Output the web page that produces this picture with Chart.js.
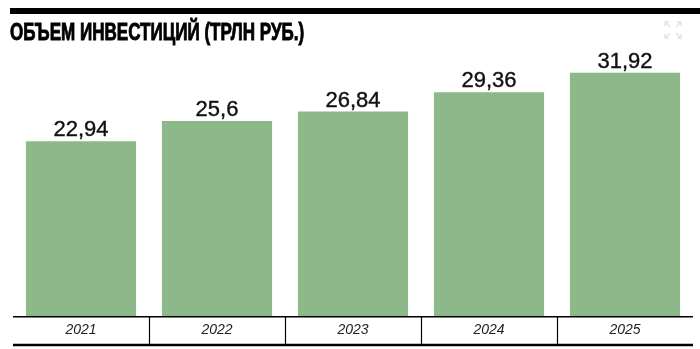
<!DOCTYPE html>
<html><head><meta charset="utf-8">
<script src="https://cdn.jsdelivr.net/npm/chart.js@4"></script>
<style>
html,body{margin:0;padding:0;background:#fff;}
#wrap{position:relative;width:700px;height:349px;overflow:hidden;}
#bar{position:absolute;left:10px;top:8px;width:690px;height:6px;background:#000;}
#title{position:absolute;left:10px;top:18px;font-family:"Liberation Sans",Arial,sans-serif;font-weight:bold;font-size:24px;color:#000;white-space:nowrap;transform:scaleX(0.71);transform-origin:0 0;-webkit-text-stroke:0.9px #000;}
#icon{position:absolute;left:664px;top:21px;width:18px;height:18px;}
canvas{position:absolute;left:0;top:0;}
</style></head>
<body><div id="wrap">
<canvas id="c" width="700" height="349"></canvas>
<div id="bar"></div>
<div id="title">ОБЪЕМ ИНВЕСТИЦИЙ (ТРЛН РУБ.)</div>
<svg id="icon" viewBox="0 0 18 18"><g stroke="#e4e4e4" stroke-width="1.5" fill="none"><path d="M1 5V1h4M13 1h4v4M17 13v4h-4M5 17H1v-4M1 1l5 5M17 1l-5 5M17 17l-5-5M1 17l5-5"/></g></svg>
</div>
<script>
const categories = ["2021","2022","2023","2024","2025"];
const values = [22.94, 25.6, 26.84, 29.36, 31.92];
const valueLabels = ["22,94","25,6","26,84","29,36","31,92"];

const deco = {
  id:'deco',
  afterDatasetsDraw(chart){
    const ctx = chart.ctx, xs = chart.scales.x, ys = chart.scales.y;
    const meta = chart.getDatasetMeta(0);
    ctx.save();
    ctx.fillStyle = '#111';
    ctx.strokeStyle = '#111';
    ctx.lineWidth = 0.4;
    ctx.font = '22px "Liberation Sans", Arial, sans-serif';
    ctx.textAlign = 'center';
    ctx.textBaseline = 'alphabetic';
    meta.data.forEach((el,i)=>{
      const y = ys.getPixelForValue(values[i]) - 5;
      ctx.fillText(valueLabels[i], el.x, y);
      ctx.strokeText(valueLabels[i], el.x, y);
    });
    const area = chart.chartArea;
    const band = (area.right - area.left)/categories.length;
    const top = area.bottom, bot = xs.bottom;
    ctx.strokeStyle = '#000';
    ctx.lineWidth = 1.5;
    ctx.beginPath(); ctx.moveTo(area.left, top+0.5); ctx.lineTo(area.right, top+0.5); ctx.stroke();
    ctx.lineWidth = 2.5;
    ctx.beginPath(); ctx.moveTo(area.left, bot); ctx.lineTo(area.right, bot); ctx.stroke();
    ctx.lineWidth = 1.2;
    for(let i=1;i<categories.length;i++){
      const x = Math.round(area.left + band*i)+0.5;
      ctx.beginPath(); ctx.moveTo(x, top); ctx.lineTo(x, bot); ctx.stroke();
    }
    ctx.restore();
  }
};

new Chart(document.getElementById('c'), {
  type:'bar',
  data:{labels:categories, datasets:[{data:values, backgroundColor:'#8db98a', borderWidth:0, barPercentage:0.81, categoryPercentage:1}]},
  options:{
    responsive:false, animation:false, devicePixelRatio:1,
    layout:{padding:{left:13, right:7, top:57, bottom:4}},
    plugins:{legend:{display:false}, tooltip:{enabled:false}},
    scales:{
      x:{grid:{display:false, drawTicks:false}, border:{display:false},
         ticks:{color:'#222', padding:6, font:{family:'"Liberation Sans", Arial, sans-serif', size:14, style:'italic'}}},
      y:{display:false, min:0, max:34}
    }
  },
  plugins:[deco]
});
</script>
</body></html>
